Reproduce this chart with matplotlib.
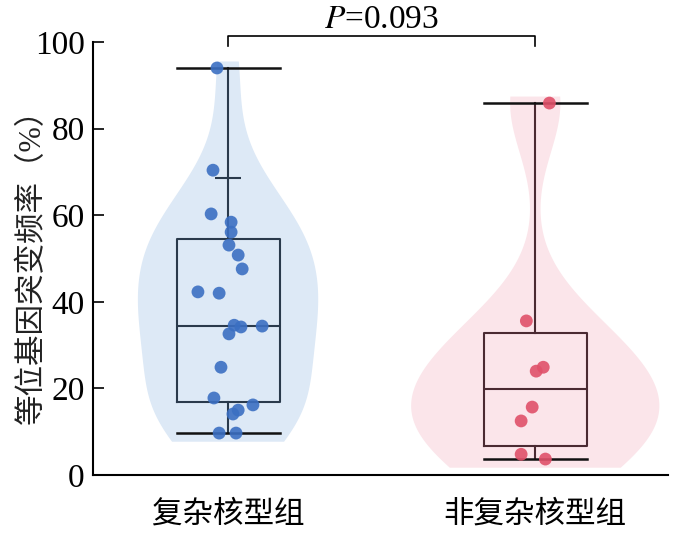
import numpy as np
import matplotlib.pyplot as plt
from matplotlib import mlab

plt.rcParams['font.family'] = ['Liberation Serif', 'Noto Sans CJK SC']
plt.rcParams['mathtext.fontset'] = 'stix'

# --- data ---
groups = ['复杂核型组', '非复杂核型组']
complex_vals = [94.0, 70.4, 60.3, 58.4, 56.1, 53.1, 50.8, 47.6, 42.3, 42.0,
                34.6, 34.2, 34.4, 32.6, 24.9, 17.8, 16.2, 15.0, 14.1, 9.7, 9.7]
complex_jitter = [-0.036, -0.049, -0.055, 0.010, 0.010, 0.003, 0.033, 0.046,
                  -0.098, -0.029, 0.020, 0.042, 0.111, 0.003, -0.023, -0.046,
                  0.081, 0.033, 0.016, -0.029, 0.026]
noncomplex_vals = [85.9, 35.6, 24.9, 24.0, 15.7, 12.5, 4.8, 3.7]
noncomplex_jitter = [0.046, -0.029, 0.026, 0.003, -0.010, -0.046, -0.046, 0.033]

box_q1 = [16.9, 6.7]
box_median = [34.4, 19.9]
box_q3 = [54.5, 32.8]
complex_upper_whisker = 68.6
p_value = 0.093

fill_colors = ['#dde9f6', '#fbe5ea']
point_colors = ['#3b6fc2', '#e0516a']
line_colors = ['#2a3a4c', '#4a2a32']

positions = [0, 1]
box_w = 0.335
violin_w = [0.587, 0.808]
bandwidths = [0.52, 0.44]

fig = plt.figure(figsize=(6.73, 5.35), dpi=100)
ax = fig.add_axes([0.138, 0.112, 0.855, 0.8095])

# violins: KDE evaluated slightly past the data range
all_vals = [complex_vals, noncomplex_vals]
vstats = []
for vals, bw in zip(all_vals, bandwidths):
    v = np.asarray(vals)
    kde = mlab.GaussianKDE(v, bw_method=bw)
    coords = np.linspace(v.min() - 2, v.max() + 1.5, 300)
    vstats.append(dict(coords=coords, vals=kde.evaluate(coords),
                       mean=v.mean(), median=np.median(v),
                       min=v.min(), max=v.max()))
parts = ax.violin(vstats, positions=positions, widths=violin_w,
                  showmeans=False, showextrema=False)
for body, c in zip(parts['bodies'], fill_colors):
    body.set_facecolor(c)
    body.set_edgecolor('none')
    body.set_alpha(1)

# boxes, whiskers to the data extremes
bstats = []
for i, vals in enumerate(all_vals):
    bstats.append(dict(q1=box_q1[i], med=box_median[i], q3=box_q3[i],
                       whislo=min(vals), whishi=max(vals), fliers=[]))
for i in range(2):
    lc = line_colors[i]
    ax.bxp([bstats[i]], positions=[positions[i]], widths=box_w,
           capwidths=box_w, showfliers=False,
           boxprops=dict(color=lc, lw=1.5),
           medianprops=dict(color=lc, lw=1.5),
           whiskerprops=dict(color=lc, lw=1.5),
           capprops=dict(color='#111111', lw=1.8))
ax.hlines(complex_upper_whisker, positions[0] - 0.043, positions[0] + 0.043,
          color=line_colors[0], lw=1.5)

# jittered points
for i, (vals, jit) in enumerate([(complex_vals, complex_jitter),
                                 (noncomplex_vals, noncomplex_jitter)]):
    ax.scatter(positions[i] + np.asarray(jit), vals, s=85,
               color=point_colors[i], alpha=0.9, edgecolor='none', zorder=5)

# significance bracket
ax.plot([0, 0, 1, 1], [99, 101.4, 101.4, 99], color='black', lw=1.2,
        clip_on=False)
ax.text(0.5, 103.2, rf'$P$={p_value}', ha='center', va='baseline',
        fontsize=24)

ax.set_xlim(-0.44, 1.433)
ax.set_ylim(0, 100)
ax.set_yticks([0, 20, 40, 60, 80, 100])
ax.set_xticks(positions)
ax.set_xticklabels(groups, fontsize=22)
ax.tick_params(axis='y', direction='in', length=8, width=1.2, labelsize=24,
               pad=6)
ax.tick_params(axis='x', length=0, pad=18)
for s in ['top', 'right']:
    ax.spines[s].set_visible(False)
for s in ['left', 'bottom']:
    ax.spines[s].set_linewidth(1.5)
ax.set_ylabel('等位基因突变频率（%）', fontsize=22, color='#222222')
ax.yaxis.set_label_coords(-0.08, 0.5)

plt.savefig('out.png', dpi=100)
